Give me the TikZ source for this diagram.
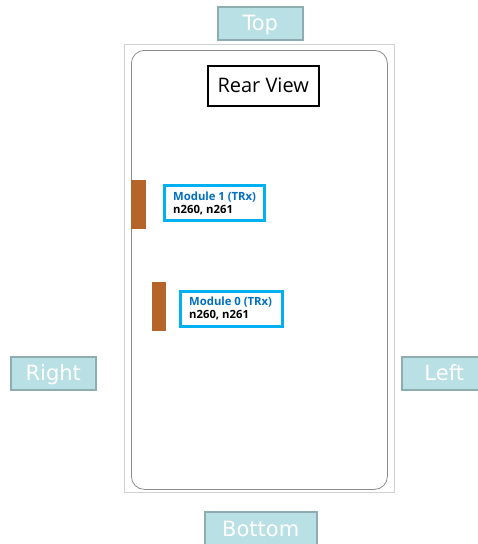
\documentclass[tikz,border=0pt]{standalone}
\usepackage{fontspec}
\setmainfont{Open Sans}
\newfontfamily\labfont{DejaVu Sans}
\definecolor{tealfill}{HTML}{B9E0E4}
\definecolor{tealedge}{HTML}{8EADB0}
\definecolor{modedge}{HTML}{00B0F0}
\definecolor{modtext}{HTML}{0070C0}
\definecolor{barcol}{HTML}{B5652A}
\begin{document}
\begin{tikzpicture}[x=1pt,y=-1pt,
  sidelabel/.style={draw=tealedge, line width=1.5pt, fill=tealfill, text=white,
    font=\labfont\fontsize{21}{22}\selectfont, inner sep=0pt, anchor=north west,
    text height=15pt, text depth=0pt},
  modbox/.style={draw=modedge, line width=2.8pt, fill=white, inner sep=0pt, anchor=north west},
  modbar/.style={fill=barcol, draw=none},
  modtitle/.style={text=modtext, font=\bfseries\fontsize{11.3}{12}\selectfont, anchor=base west, inner sep=0pt},
  modbands/.style={text=black, font=\bfseries\fontsize{11.3}{12}\selectfont, anchor=base west, inner sep=0pt}]
\useasboundingbox (0,0) rectangle (478,544);
\begin{scope}
\clip (0,0) rectangle (478,544);
% outer frame
\node[draw=black!18, line width=0.8pt, minimum width=270pt, minimum height=448pt, inner sep=0pt, anchor=north west] (frame) at (124,44) {};
\node[draw=black!45, line width=0.8pt, rounded corners=13pt, minimum width=256pt, minimum height=439pt, inner sep=0pt, anchor=north west] (phone) at (131,50) {};
% rear view
\node[draw=black, line width=1.5pt, minimum width=111pt, minimum height=40pt, inner sep=0pt, anchor=north west,
  font=\fontsize{20}{22}\selectfont] (rear) at (207,65) {Rear View};
% module 1
\node[modbar, minimum width=15pt, minimum height=49pt, inner sep=0pt, anchor=north west] (bar1) at (131,180) {};
\node[modbox, minimum width=100pt, minimum height=35pt] (mod1) at (163,184) {};
\node[modtitle] (mod1t) at (173,200) {Module 1 (TRx)};
\node[modbands] (mod1b) at (173,213) {n260, n261};
% module 0
\node[modbar, minimum width=14pt, minimum height=49pt, inner sep=0pt, anchor=north west] (bar0) at (152,282) {};
\node[modbox, minimum width=102pt, minimum height=35pt] (mod0) at (179,290) {};
\node[modtitle] (mod0t) at (189,305) {Module 0 (TRx)};
\node[modbands] (mod0b) at (189,318) {n260, n261};
% side labels
\node[sidelabel, minimum width=85pt, minimum height=33pt] (top) at (217,6) {Top};
\node[sidelabel, minimum width=85pt, minimum height=33pt] (right) at (10,356) {Right};
\node[sidelabel, minimum width=85pt, minimum height=33pt] (left) at (401,356) {Left};
\node[sidelabel, minimum width=112pt, minimum height=34pt] (bottom) at (204,511) {Bottom};
\end{scope}
\end{tikzpicture}
\end{document}
